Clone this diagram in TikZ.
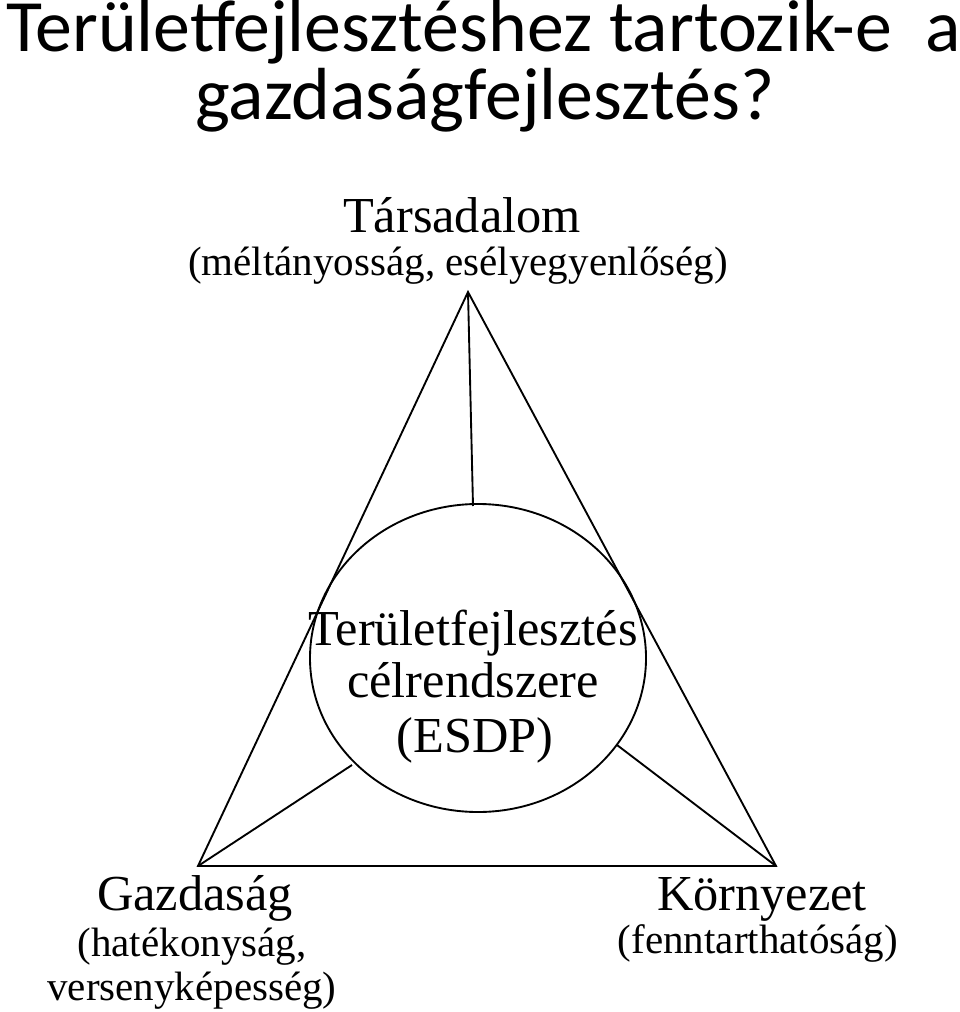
\documentclass[tikz,border=0pt]{standalone}
\usepackage{fontspec}
\usetikzlibrary{shapes.geometric}
\setmainfont{Liberation Serif}
\newfontfamily\titlefont{Carlito}
\begin{document}
\begin{tikzpicture}[x=0.03cm,y=-0.03cm,
  ttl/.style={font=\titlefont\fontsize{63}{68}\selectfont,anchor=base,inner sep=0},
  big/.style={font=\fontsize{43}{46}\selectfont,anchor=base,inner sep=0},
  small/.style={font=\fontsize{35}{38}\selectfont,anchor=base,inner sep=0},
  edge/.style={line width=1.6pt}]
\useasboundingbox (0,0) rectangle (960,1012);
\node[ttl,anchor=base west] (t1) at (6,52) {Területfejlesztéshez tartozik-e\ \ a};
\node[ttl] (t2) at (485,120) {gazdaságfejlesztés?};
\node[big] (tars) at (462,232) {Társadalom};
\node[small] (tars2) at (458,275) {(méltányosság, esélyegyenlőség)};
\coordinate (A) at (468,292);
\coordinate (B) at (198,866);
\coordinate (C) at (776,866);
\draw[edge] (A) -- (B) -- (C) -- cycle;
\node[draw,edge,ellipse,minimum width=10.08cm,minimum height=9.24cm,inner sep=0] (circ) at (478,658) {};
\coordinate (ct) at (473,506);
\coordinate (cl) at (352,765);
\coordinate (cr) at (617,745);
\draw[edge] (A) -- (ct);
\draw[edge] (B) -- (cl);
\draw[edge] (C) -- (cr);
\node[big] (c1) at (473,645) {Területfejlesztés};
\node[big] (c2) at (473,697) {célrendszere};
\node[big] (c3) at (475,752) {(ESDP)};
\node[big] (g1) at (195,910) {Gazdaság};
\node[small] (g2) at (192,956) {(hatékonyság,};
\node[small] (g3) at (192,1000) {versenyképesség)};
\node[big] (k1) at (762,910) {Környezet};
\node[small] (k2) at (758,953) {(fenntarthatóság)};
\end{tikzpicture}
\end{document}
